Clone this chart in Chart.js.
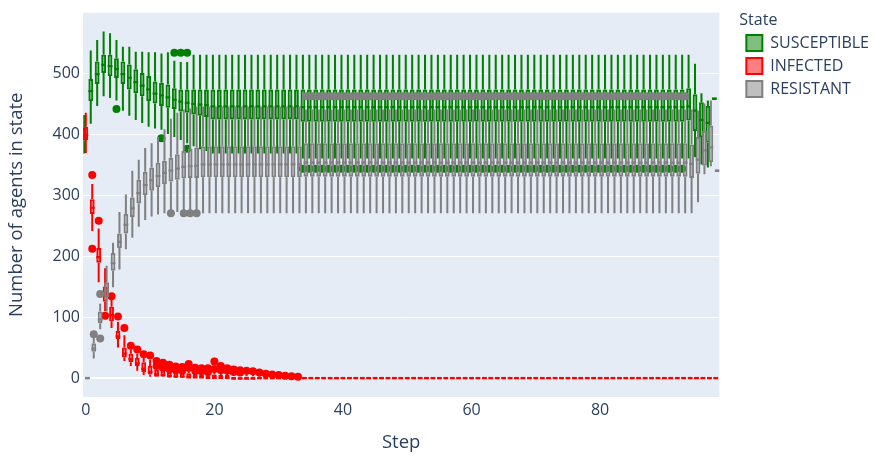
<!DOCTYPE html>
<html>
<head>
<meta charset="utf-8">
<script src="https://cdn.jsdelivr.net/npm/chart.js@4.4.1/dist/chart.umd.min.js"></script>
<style>
  html, body { margin: 0; padding: 0; background: #fff; }
</style>
</head>
<body>
<canvas id="stateChart" width="885" height="457"></canvas>
<script>
// box plot of agents per state, by step (Plotly-style grouped boxes)

const steps = [
  0, 1, 2, 3, 4, 5, 6, 7, 8, 9,
  10, 11, 12, 13, 14, 15, 16, 17, 18, 19,
  20, 21, 22, 23, 24, 25, 26, 27, 28, 29,
  30, 31, 32, 33, 34, 35, 36, 37, 38, 39,
  40, 41, 42, 43, 44, 45, 46, 47, 48, 49,
  50, 51, 52, 53, 54, 55, 56, 57, 58, 59,
  60, 61, 62, 63, 64, 65, 66, 67, 68, 69,
  70, 71, 72, 73, 74, 75, 76, 77, 78, 79,
  80, 81, 82, 83, 84, 85, 86, 87, 88, 89,
  90, 91, 92, 93, 94, 95, 96, 97, 98
];
const xTicks = [0, 20, 40, 60, 80];
const yTicks = [0, 100, 200, 300, 400, 500];

// SUSCEPTIBLE
const susMin = [
  368, 417, 446, 462, 459, 455, 438, 430, 423, 418,
  412, 409, 407, 400, 395, 390, 385, 380, 375, 372,
  368, 368, 368, 368, 368, 368, 368, 368, 368, 368,
  368, 368, 368, 368, 360, 360, 360, 360, 360, 360,
  360, 360, 360, 360, 360, 360, 360, 360, 360, 360,
  360, 360, 360, 360, 360, 360, 360, 360, 360, 360,
  360, 360, 360, 360, 360, 360, 360, 360, 360, 360,
  360, 360, 360, 360, 360, 360, 360, 360, 360, 360,
  360, 360, 360, 360, 360, 360, 360, 360, 360, 360,
  360, 360, 360, 360, 360, 362, 350, 345, 460
];
const susQ1 = [
  389, 454, 482, 500, 495, 492, 482, 473, 467, 462,
  454, 450, 446, 443, 441, 437, 435, 432, 430, 428,
  424, 424, 424, 424, 424, 424, 424, 424, 424, 424,
  424, 424, 424, 424, 420, 420, 420, 420, 420, 420,
  420, 420, 420, 420, 420, 420, 420, 420, 420, 420,
  420, 420, 420, 420, 420, 420, 420, 420, 420, 420,
  420, 420, 420, 420, 420, 420, 420, 420, 420, 420,
  420, 420, 420, 420, 420, 420, 420, 420, 420, 420,
  420, 420, 420, 420, 420, 420, 420, 420, 420, 420,
  420, 420, 420, 420, 422, 405, 395, 386, 460
];
const susMed = [
  399, 472, 500, 515, 513, 508, 500, 494, 487, 481,
  475, 468, 465, 462, 458, 455, 453, 451, 450, 449,
  447, 447, 447, 447, 447, 447, 447, 447, 447, 447,
  447, 447, 447, 447, 446, 446, 446, 446, 446, 446,
  446, 446, 446, 446, 446, 446, 446, 446, 446, 446,
  446, 446, 446, 446, 446, 446, 446, 446, 446, 446,
  446, 446, 446, 446, 446, 446, 446, 446, 446, 446,
  446, 446, 446, 446, 446, 446, 446, 446, 446, 446,
  446, 446, 446, 446, 446, 446, 446, 446, 446, 446,
  446, 446, 446, 446, 447, 440, 425, 420, 460
];
const susQ3 = [
  410, 490, 519, 530, 530, 524, 519, 514, 506, 500,
  495, 486, 484, 481, 475, 473, 473, 473, 473, 473,
  473, 473, 473, 473, 473, 473, 473, 473, 473, 473,
  473, 473, 473, 473, 473, 473, 473, 473, 473, 473,
  473, 473, 473, 473, 473, 473, 473, 473, 473, 473,
  473, 473, 473, 473, 473, 473, 473, 473, 473, 473,
  473, 473, 473, 473, 473, 473, 473, 473, 473, 473,
  473, 473, 473, 473, 473, 473, 473, 473, 473, 473,
  473, 473, 473, 473, 473, 473, 473, 473, 473, 473,
  473, 473, 473, 473, 475, 465, 452, 446, 460
];
const susMax = [
  431, 537, 554, 568, 565, 554, 543, 543, 535, 535,
  534, 534, 532, 534, 520, 518, 518, 530, 530, 530,
  530, 530, 530, 530, 530, 530, 530, 530, 530, 530,
  530, 530, 530, 530, 530, 530, 530, 530, 530, 530,
  530, 530, 530, 530, 530, 530, 530, 530, 530, 530,
  530, 530, 530, 530, 530, 530, 530, 530, 530, 530,
  530, 530, 530, 530, 530, 530, 530, 530, 530, 530,
  530, 530, 530, 530, 530, 530, 530, 530, 530, 530,
  530, 530, 530, 530, 530, 530, 530, 530, 530, 530,
  530, 530, 530, 530, 530, 515, 467, 455, 460
];
const susOutliers = [
  [5, 441], [12, 393], [14, 533], [15, 533], [16, 533], [16, 376],
  [34, 343], [35, 343], [36, 343], [37, 343], [38, 343], [39, 343], [40, 343], [41, 343], [42, 343], [43, 343],
  [44, 343], [45, 343], [46, 343], [47, 343], [48, 343], [49, 343], [50, 343], [51, 343], [52, 343], [53, 343],
  [54, 343], [55, 343], [56, 343], [57, 343], [58, 343], [59, 343], [60, 343], [61, 343], [62, 343], [63, 343],
  [64, 343], [65, 343], [66, 343], [67, 343], [68, 343], [69, 343], [70, 343], [71, 343], [72, 343], [73, 343],
  [74, 343], [75, 343], [76, 343], [77, 343], [78, 343], [79, 343], [80, 343], [81, 343], [82, 343], [83, 343],
  [84, 343], [85, 343], [86, 343], [87, 343], [88, 343], [89, 343], [90, 343], [91, 343], [92, 343], [93, 343]
];

// INFECTED
const infMin = [
  369, 241, 157, 110, 82, 50, 28, 20, 12, 5,
  2, 0, 0, 0, 0, 0, 0, 0, 0, 0,
  0, 0, 0, 0, 0, 0, 0, 0, 0, 0,
  0, 0, 0, 0, 0, 0, 0, 0, 0, 0,
  0, 0, 0, 0, 0, 0, 0, 0, 0, 0,
  0, 0, 0, 0, 0, 0, 0, 0, 0, 0,
  0, 0, 0, 0, 0, 0, 0, 0, 0, 0,
  0, 0, 0, 0, 0, 0, 0, 0, 0, 0,
  0, 0, 0, 0, 0, 0, 0, 0, 0, 0,
  0, 0, 0, 0, 0, 0, 0, 0, 0
];
const infQ1 = [
  390, 269, 189, 125, 93, 64, 34, 26, 20, 10,
  6, 2, 2, 1, 1, 1, 1, 0, 0, 0,
  0, 0, 0, 0, 0, 0, 0, 0, 0, 0,
  0, 0, 0, 0, 0, 0, 0, 0, 0, 0,
  0, 0, 0, 0, 0, 0, 0, 0, 0, 0,
  0, 0, 0, 0, 0, 0, 0, 0, 0, 0,
  0, 0, 0, 0, 0, 0, 0, 0, 0, 0,
  0, 0, 0, 0, 0, 0, 0, 0, 0, 0,
  0, 0, 0, 0, 0, 0, 0, 0, 0, 0,
  0, 0, 0, 0, 0, 0, 0, 0, 0
];
const infMed = [
  400, 281, 200, 137, 105, 70, 42, 33, 26, 17,
  12, 8, 7, 5, 4, 4, 3, 3, 3, 2,
  2, 2, 2, 1, 1, 1, 1, 0, 0, 0,
  0, 0, 0, 0, 0, 0, 0, 0, 0, 0,
  0, 0, 0, 0, 0, 0, 0, 0, 0, 0,
  0, 0, 0, 0, 0, 0, 0, 0, 0, 0,
  0, 0, 0, 0, 0, 0, 0, 0, 0, 0,
  0, 0, 0, 0, 0, 0, 0, 0, 0, 0,
  0, 0, 0, 0, 0, 0, 0, 0, 0, 0,
  0, 0, 0, 0, 0, 0, 0, 0, 0
];
const infQ3 = [
  412, 293, 213, 150, 117, 77, 50, 40, 33, 26,
  20, 14, 12, 10, 9, 8, 8, 7, 6, 6,
  6, 5, 5, 4, 4, 3, 3, 2, 2, 1,
  1, 0, 0, 0, 0, 0, 0, 0, 0, 0,
  0, 0, 0, 0, 0, 0, 0, 0, 0, 0,
  0, 0, 0, 0, 0, 0, 0, 0, 0, 0,
  0, 0, 0, 0, 0, 0, 0, 0, 0, 0,
  0, 0, 0, 0, 0, 0, 0, 0, 0, 0,
  0, 0, 0, 0, 0, 0, 0, 0, 0, 0,
  0, 0, 0, 0, 0, 0, 0, 0, 0
];
const infMax = [
  435, 318, 245, 180, 128, 92, 70, 47, 40, 33,
  30, 24, 20, 17, 15, 14, 14, 12, 12, 11,
  11, 10, 10, 9, 8, 7, 6, 5, 4, 3,
  2, 0, 0, 0, 0, 0, 0, 0, 0, 0,
  0, 0, 0, 0, 0, 0, 0, 0, 0, 0,
  0, 0, 0, 0, 0, 0, 0, 0, 0, 0,
  0, 0, 0, 0, 0, 0, 0, 0, 0, 0,
  0, 0, 0, 0, 0, 0, 0, 0, 0, 0,
  0, 0, 0, 0, 0, 0, 0, 0, 0, 0,
  0, 0, 0, 0, 0, 0, 0, 0, 0
];
const infOutliers = [
  [1, 333], [1, 212], [2, 258], [3, 102], [4, 134], [5, 101], [6, 82], [7, 53], [8, 47], [9, 39],
  [10, 37], [11, 28], [11, 20], [12, 25], [12, 17], [13, 22], [13, 15], [14, 19], [14, 13], [15, 18],
  [15, 12], [16, 23], [16, 17], [17, 17], [17, 12], [18, 16], [18, 11], [19, 16], [19, 10], [20, 27],
  [20, 15], [21, 20], [21, 13], [22, 16], [22, 12], [23, 14], [23, 10], [24, 13], [24, 9], [25, 12],
  [26, 11], [27, 9], [28, 7], [29, 6], [30, 5], [31, 4], [32, 3], [33, 2]
];

// RESISTANT
const resMin = [
  0, 32, 80, 109, 149, 178, 211, 230, 248, 259,
  265, 268, 270, 275, 272, 275, 275, 275, 270, 270,
  270, 270, 270, 270, 270, 270, 270, 270, 270, 270,
  270, 270, 270, 270, 270, 270, 270, 270, 270, 270,
  270, 270, 270, 270, 270, 270, 270, 270, 270, 270,
  270, 270, 270, 270, 270, 270, 270, 270, 270, 270,
  270, 270, 270, 270, 270, 270, 270, 270, 270, 270,
  270, 270, 270, 270, 270, 270, 270, 270, 270, 270,
  270, 270, 270, 270, 270, 270, 270, 270, 270, 270,
  270, 270, 270, 270, 270, 288, 334, 347, 342
];
const resQ1 = [
  0, 43, 90, 133, 176, 213, 237, 264, 286, 300,
  307, 313, 318, 322, 325, 327, 328, 328, 329, 329,
  329, 329, 329, 329, 329, 329, 329, 329, 329, 329,
  329, 329, 329, 329, 330, 330, 330, 330, 330, 330,
  330, 330, 330, 330, 330, 330, 330, 330, 330, 330,
  330, 330, 330, 330, 330, 330, 330, 330, 330, 330,
  330, 330, 330, 330, 330, 330, 330, 330, 330, 330,
  330, 330, 330, 330, 330, 330, 330, 330, 330, 330,
  330, 330, 330, 330, 330, 330, 330, 330, 330, 330,
  330, 330, 330, 330, 328, 335, 348, 354, 342
];
const resMed = [
  0, 50, 98, 145, 190, 225, 253, 280, 305, 318,
  326, 333, 338, 342, 345, 348, 349, 350, 352, 352,
  352, 352, 352, 352, 352, 352, 352, 352, 352, 352,
  352, 352, 352, 352, 355, 355, 355, 355, 355, 355,
  355, 355, 355, 355, 355, 355, 355, 355, 355, 355,
  355, 355, 355, 355, 355, 355, 355, 355, 355, 355,
  355, 355, 355, 355, 355, 355, 355, 355, 355, 355,
  355, 355, 355, 355, 355, 355, 355, 355, 355, 355,
  355, 355, 355, 355, 355, 355, 355, 355, 355, 355,
  355, 355, 355, 355, 353, 360, 375, 380, 342
];
const resQ3 = [
  0, 57, 109, 157, 205, 237, 269, 296, 325, 338,
  345, 353, 356, 361, 367, 372, 376, 378, 380, 380,
  380, 380, 380, 380, 380, 380, 380, 380, 380, 380,
  380, 380, 380, 380, 385, 385, 385, 385, 385, 385,
  385, 385, 385, 385, 385, 385, 385, 385, 385, 385,
  385, 385, 385, 385, 385, 385, 385, 385, 385, 385,
  385, 385, 385, 385, 385, 385, 385, 385, 385, 385,
  385, 385, 385, 385, 385, 385, 385, 385, 385, 385,
  385, 385, 385, 385, 385, 385, 385, 385, 385, 385,
  385, 385, 385, 385, 383, 395, 405, 414, 342
];
const resMax = [
  0, 66, 122, 184, 222, 272, 301, 340, 358, 377,
  385, 395, 408, 425, 435, 440, 442, 445, 445, 445,
  445, 445, 445, 445, 445, 445, 445, 445, 445, 445,
  445, 445, 445, 445, 440, 440, 440, 440, 440, 440,
  440, 440, 440, 440, 440, 440, 440, 440, 440, 440,
  440, 440, 440, 440, 440, 440, 440, 440, 440, 440,
  440, 440, 440, 440, 440, 440, 440, 440, 440, 440,
  440, 440, 440, 440, 440, 440, 440, 440, 440, 440,
  440, 440, 440, 440, 440, 440, 440, 440, 440, 440,
  440, 440, 440, 440, 440, 438, 450, 455, 342
];
const resOutliers = [
  [1, 72], [2, 138], [2, 65], [13, 270], [15, 270], [16, 270], [17, 270],
  [34, 462], [35, 462], [36, 462], [37, 462], [38, 462], [39, 462], [40, 462], [41, 462], [42, 462], [43, 462],
  [44, 462], [45, 462], [46, 462], [47, 462], [48, 462], [49, 462], [50, 462], [51, 462], [52, 462], [53, 462],
  [54, 462], [55, 462], [56, 462], [57, 462], [58, 462], [59, 462], [60, 462], [61, 462], [62, 462], [63, 462],
  [64, 462], [65, 462], [66, 462], [67, 462], [68, 462], [69, 462], [70, 462], [71, 462], [72, 462], [73, 462],
  [74, 462], [75, 462], [76, 462], [77, 462], [78, 462], [79, 462], [80, 462], [81, 462], [82, 462], [83, 462],
  [84, 462], [85, 462], [86, 462], [87, 462], [88, 462], [89, 462], [90, 462], [91, 462], [92, 462], [93, 462]
];

const stateNames = ['SUSCEPTIBLE', 'INFECTED', 'RESISTANT'];
const stateLine = ['#008000', '#ff0000', '#808080'];
const stateFill = ['rgba(0,128,0,0.5)', 'rgba(255,0,0,0.5)', 'rgba(128,128,128,0.5)'];

const textColor = '#2a3f5f';
const fontFamily = "'Open Sans', verdana, arial, sans-serif";

function ranged(lo, hi) {
  return steps.map((s, i) => ({ x: s, y: [lo[i], hi[i]] }));
}

// one box trace = outliers, median, box, two whiskers (first one drawn on top)
function boxTrace(k, mins, q1s, meds, q3s, maxs, outliers) {
  const stack = stateNames[k];
  const col = stateLine[k];
  return [
    { type: 'scatter', label: stack + ' pts', slotOf: stack,
      data: outliers.map(o => ({ x: o[0], y: o[1] })),
      pointRadius: 4, pointHoverRadius: 4, backgroundColor: col, borderWidth: 0 },
    { type: 'bar', label: stack + ' med', stack, data: ranged(meds, meds),
      backgroundColor: col, barPercentage: 3.2, minBarLength: 2.2 },
    { type: 'bar', label: stack + ' box', stack, data: ranged(q1s, q3s),
      backgroundColor: stateFill[k], borderColor: col, borderWidth: 1.9,
      borderSkipped: false, barPercentage: 3.2, minBarLength: 2.5 },
    { type: 'bar', label: stack + ' lo', stack, data: ranged(mins, q1s),
      backgroundColor: col, barPercentage: 1.35 },
    { type: 'bar', label: stack + ' hi', stack, data: ranged(q3s, maxs),
      backgroundColor: col, barPercentage: 1.35 }
  ];
}

// empty datasets: they fix the slot order (S left, I middle, R right) and feed the legend
const legendSets = stateNames.map((n, k) => ({
  type: 'bar', label: n, stack: n, data: [],
  backgroundColor: stateFill[k], borderColor: stateLine[k], borderWidth: 2
}));

const datasets = legendSets
  .concat(boxTrace(2, resMin, resQ1, resMed, resQ3, resMax, resOutliers))
  .concat(boxTrace(1, infMin, infQ1, infMed, infQ3, infMax, infOutliers))
  .concat(boxTrace(0, susMin, susQ1, susMed, susQ3, susMax, susOutliers));

// paper + plot background
const plotBg = {
  id: 'plotBg',
  beforeDraw(chart) {
    const { ctx, chartArea: a } = chart;
    ctx.save();
    ctx.fillStyle = '#ffffff';
    ctx.fillRect(0, 0, chart.width, chart.height);
    ctx.fillStyle = '#e5ecf6';
    ctx.fillRect(a.left, a.top, a.right - a.left, a.bottom - a.top);
    ctx.restore();
  }
};

// move outlier points into the same group slot as their boxes
const slotShift = {
  id: 'slotShift',
  afterDatasetsUpdate(chart) {
    const xs = chart.scales.x;
    chart.data.datasets.forEach((ds, i) => {
      if (!ds.slotOf) return;
      const boxIdx = chart.data.datasets.findIndex(d => d.label === ds.slotOf + ' box');
      const bar = chart.getDatasetMeta(boxIdx).data[0];
      if (!bar) return;
      const dx = bar.x - xs.getPixelForValue(steps[0]);
      chart.getDatasetMeta(i).data.forEach(p => { p.x += dx; });
    });
  }
};

new Chart(document.getElementById('stateChart'), {
  type: 'bar',
  data: { datasets },
  plugins: [plotBg, slotShift],
  options: {
    responsive: false,
    devicePixelRatio: 1,
    animation: false,
    events: [],
    layout: { padding: { top: 5, right: 6, bottom: 0, left: 0 } },
    datasets: { bar: { categoryPercentage: 0.7, grouped: true } },
    scales: {
      x: {
        type: 'linear', min: -0.44, max: 98.55, offset: false,
        grid: { display: false, offset: false, drawTicks: false },
        border: { display: false },
        afterBuildTicks: s => { s.ticks = xTicks.map(v => ({ value: v })); },
        ticks: { color: textColor, font: { family: fontFamily, size: 16 }, padding: 4, maxRotation: 0 },
        title: { display: true, text: 'Step', color: textColor,
                 font: { family: fontFamily, size: 18.5 }, padding: { top: 0, bottom: 3 } },
        afterFit: s => { s.height = 60; }
      },
      y: {
        type: 'linear', min: -31, max: 599, stacked: false,
        grid: { color: '#ffffff', lineWidth: c => (c.tick && c.tick.value === 0 ? 2 : 1), drawTicks: false },
        border: { display: false },
        afterBuildTicks: s => { s.ticks = yTicks.map(v => ({ value: v })); },
        ticks: { color: textColor, font: { family: fontFamily, size: 16 }, padding: 3 },
        title: { display: true, text: 'Number of agents in state', color: textColor,
                 font: { family: fontFamily, size: 18.5 }, padding: { top: 6, bottom: 0 } },
        afterFit: s => { s.width = 83; }
      },
      gap: {
        type: 'linear', position: 'right', display: true,
        grid: { display: false }, border: { display: false }, ticks: { display: false },
        afterFit: s => { s.width = 20; }
      }
    },
    plugins: {
      tooltip: { enabled: false },
      legend: {
        position: 'right',
        align: 'start',
        title: { display: true, text: 'State', position: 'start', color: textColor,
                 font: { family: fontFamily, size: 16, lineHeight: 1 }, padding: { top: 7, bottom: 0 } },
        labels: { color: textColor, font: { family: fontFamily, size: 16 },
                  boxWidth: 16, boxHeight: 16, padding: 7,
                  filter: item => stateNames.includes(item.text) }
      }
    }
  }
});
</script>
</body>
</html>
